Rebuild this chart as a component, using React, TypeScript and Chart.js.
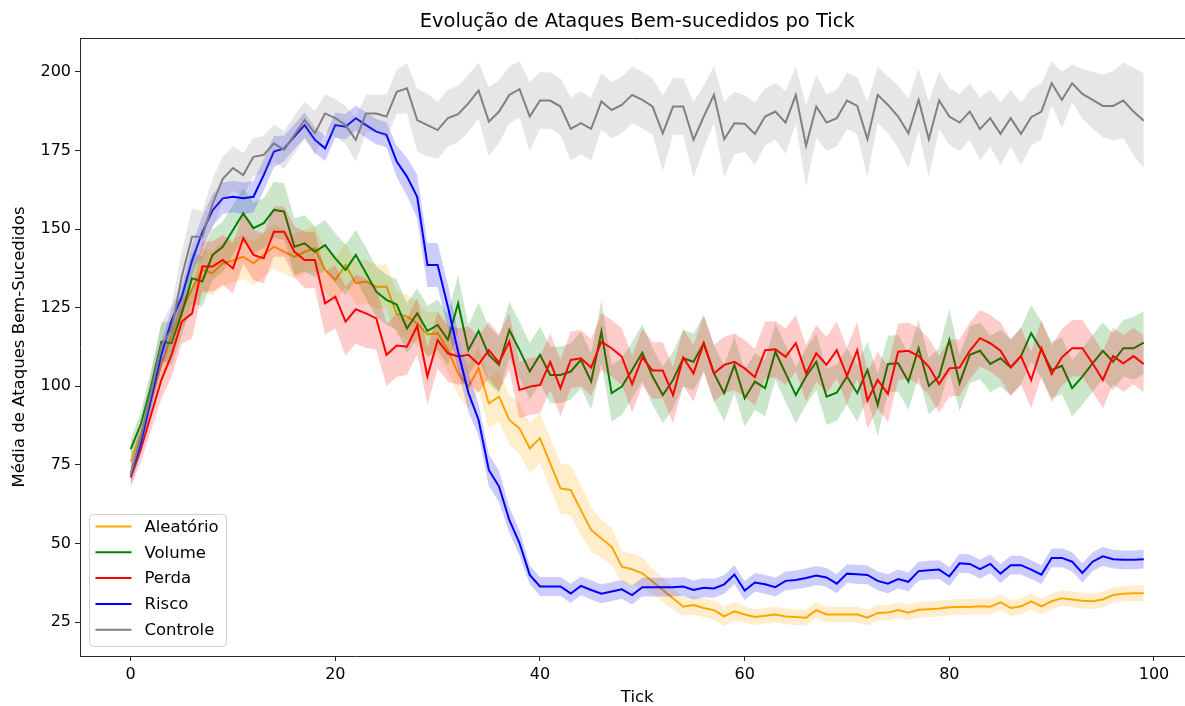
import { useEffect, useRef } from 'react';
import { Chart, registerables } from 'chart.js';

Chart.register(...registerables);

const TITLE = 'Evolução de Ataques Bem-sucedidos po Tick';
const X_LABEL = 'Tick';
const Y_LABEL = 'Média de Ataques Bem-Sucedidos';

const xTicks = [0, 20, 40, 60, 80, 100];
const yTicks = [25, 50, 75, 100, 125, 150, 175, 200];

const tickIndex = Array.from({ length: 100 }, (_, i) => i);

const seriesNames = ['Aleatório', 'Volume', 'Perda', 'Risco', 'Controle'];
const seriesColors = ['#FFA500', '#008000', '#FF0000', '#0000FF', '#808080'];
const bandColors = [
  'rgba(255,165,0,0.2)',
  'rgba(0,128,0,0.2)',
  'rgba(255,0,0,0.2)',
  'rgba(0,0,255,0.2)',
  'rgba(128,128,128,0.2)',
];

const aleatorio = [
  76, 85, 96, 107, 116, 124, 131, 137, 136, 139.1,
  140, 141.2, 139.1, 141.8, 144.4, 142.8, 141.2, 142.8, 143.9, 137,
  133.8, 138.6, 132.8, 133.3, 131.7, 131.7, 123, 122.2, 120, 116.5,
  116.9, 111.6, 104.1, 99.9, 105.7, 94.6, 96.7, 89.3, 86.6, 80.3,
  83.5, 75.5, 67.5, 67, 60.6, 54.3, 51.6, 49, 42.6, 41.8,
  40.5, 37.9, 35.2, 32.6, 29.9, 30.4, 29.5, 28.8, 26.8, 28.4,
  27.4, 26.6, 27, 27.4, 26.8, 26.6, 26.4, 28.8, 27.4, 27.4,
  27.4, 27.4, 26.4, 27.9, 28, 28.8, 28, 28.9, 29.1, 29.3,
  29.7, 29.8, 29.8, 30, 29.9, 31.3, 29.5, 30, 31.6, 30,
  31.6, 32.6, 32.2, 31.8, 31.6, 32.2, 33.6, 34, 34.2, 34.2,
];
const volume = [
  80, 88, 100, 114.2, 113.7, 123.2, 134.4, 133.3, 141.8, 144.4,
  149.7, 155, 150.3, 151.9, 156.1, 155.6, 144.4, 145.5, 142.8, 144.9,
  140.7, 137, 141.8, 136, 130.1, 127.5, 126, 118.4, 123.2, 117.6,
  119.5, 114.8, 126.4, 111.5, 117.6, 110, 106.8, 117.9, 111.5, 104.7,
  110, 103.6, 103.6, 104.7, 108.4, 101.5, 117.4, 97.8, 99.9, 105.2,
  110.7, 103.1, 97.2, 102, 108.9, 107.8, 113.7, 104.1, 97.8, 106.8,
  96.2, 101.5, 99.4, 111, 104.1, 97.2, 103.1, 107.8, 96.7, 98,
  103.1, 97.8, 105.2, 94.1, 107.1, 107.3, 101.5, 112.1, 100.1, 103.1,
  114.7, 101, 110, 111.3, 107.1, 108.9, 106, 109.6, 116.9, 111.5,
  105.2, 106.5, 99.4, 103.1, 107.3, 111.3, 107.8, 112.1, 112.1, 113.9,
];
const perda = [
  71, 80, 91, 102, 110, 120.6, 123.2, 138.1, 138.1, 140.2,
  137.5, 147.1, 141.8, 140.7, 149.2, 149.2, 142.8, 140.2, 140.2, 126.4,
  128.5, 120.6, 124.5, 123.2, 121.6, 110, 113, 112.6, 119.2, 103.1,
  114.7, 110.5, 109.5, 110, 107, 111.5, 107.5, 114.2, 98.8, 99.9,
  100.4, 107.8, 99.4, 108.4, 108.9, 106, 114.2, 112.1, 109.4, 100.7,
  109.2, 105, 105, 97.2, 109.2, 104.1, 113.7, 104.1, 106.8, 107.8,
  105.7, 102.9, 111.5, 111.8, 109.4, 113.7, 104.1, 110.5, 106.8, 111.5,
  103.3, 111.5, 95.4, 102, 97.6, 111, 111.3, 109.6, 106.2, 100.7,
  105.7, 106, 111.3, 115.3, 113.7, 111.3, 106, 109.6, 102, 112.1,
  103.9, 109.2, 112.1, 112.1, 107.3, 102, 109.6, 107.3, 109.6, 107.1,
];
const risco = [
  72, 82, 96, 110, 121, 128.5, 140, 149, 156, 159.8,
  160.3, 159.8, 160.3, 167.2, 174.7, 175.7, 179.4, 183.1, 178.4, 175.7,
  183.1, 182.6, 185.3, 183.1, 181, 180, 171.5, 166.7, 160.3, 138.6,
  138.6, 125.3, 111, 98, 89.3, 73.4, 68.1, 57.5, 50.1, 40,
  36.3, 36.3, 36.3, 34.1, 36.5, 35.2, 34, 34.7, 35.4, 33.6,
  36.1, 36.1, 36.1, 36.1, 36.3, 35.2, 35.9, 35.7, 37, 40.1,
  35, 37.6, 37, 36.1, 38.1, 38.4, 39, 39.8, 39.2, 37.2,
  40.4, 40.2, 40, 38.1, 37.2, 38.7, 37.8, 41.2, 41.5, 41.7,
  39.5, 43.7, 43.5, 41.8, 43.5, 40.4, 43.1, 43.1, 41.7, 40.1,
  45.4, 45.4, 44.2, 40.6, 44.2, 45.9, 45, 44.8, 44.8, 45,
];
const controle = [
  72, 84, 98, 113, 118, 135, 147.6, 147.6, 158, 166,
  169.4, 167.2, 173, 173.6, 177.3, 175.2, 180, 184.7, 180.5, 186.8,
  185.3, 183.1, 178.4, 186.8, 186.8, 185.8, 193.7, 194.8, 184.7, 183.1,
  181.5, 185.3, 186.6, 190, 194.1, 184.2, 187.4, 192.7, 194.5, 185.8,
  190.9, 190.9, 189, 181.9, 183.7, 181.9, 190.6, 187.9, 189.5, 192.7,
  191.1, 189, 180.5, 189, 189, 178.4, 185.8, 192.7, 178.6, 183.7,
  183.5, 180.3, 185.8, 187.4, 183.9, 192.7, 176.5, 189, 183.9, 185.3,
  190.9, 189.2, 178.6, 192.7, 189.5, 185.8, 180.5, 191.1, 178.6, 190.9,
  185.8, 183.9, 187.4, 181.8, 185.3, 180.3, 185.3, 180.3, 185.6, 187.4,
  196.4, 191.1, 196.4, 193, 191.1, 189.2, 189.2, 190.9, 187.4, 184.5,
];

// half-width of the shaded band around each mean line
const aleatorioBand = [
  3, 4, 5, 6, 6, 6, 7, 7, 7, 7,
  7, 7, 7, 7, 7, 7, 7, 7, 7, 7,
  7, 7, 7, 7, 7, 7, 7, 7, 7, 7,
  7, 7, 7, 7, 7, 8, 8, 8, 8, 8,
  8, 8, 8, 8, 8, 7, 6, 6, 5, 5,
  5, 4, 4, 3.5, 3, 3, 3, 3, 3, 3,
  2.5, 2.5, 2.5, 2.5, 2.5, 2.5, 2.5, 2.5, 2.5, 2.5,
  2.5, 2.5, 2.5, 2.5, 2.5, 2.5, 2.5, 2.5, 2.5, 2.5,
  2.5, 2.5, 2.5, 2.5, 2.5, 2.5, 2.5, 2.5, 2.5, 2.5,
  2.5, 2.5, 2.5, 2.5, 2.5, 2.5, 2.5, 2.5, 2.5, 2.5,
];
const volumeBand = [
  3, 4, 5, 6, 7, 7, 8, 8, 8, 8,
  8, 8, 8, 8, 9, 9, 9, 9, 8, 8,
  8, 8, 8, 8, 8, 8, 8, 8, 8, 8,
  8, 8, 9, 8, 9, 9, 9, 9, 9, 9,
  9, 9, 9, 9, 9, 9, 10, 9, 9, 9,
  9, 9, 9, 9, 9, 9, 9, 9, 9, 9,
  9, 9, 9, 9, 9, 9, 9, 9, 9, 9,
  9, 9, 9, 10, 9, 9, 9, 9, 9, 9,
  10, 9, 9, 9, 9, 9, 9, 9, 9, 9,
  9, 9, 9, 9, 9, 9, 9, 9, 10, 10,
];
const perdaBand = [
  3, 4, 5, 6, 7, 7, 8, 8, 8, 8,
  8, 8, 8, 8, 8, 8, 8, 9, 9, 10,
  10, 11, 11, 11, 10, 10, 10, 9, 9, 9,
  9, 9, 9, 9, 9, 9, 9, 9, 9, 9,
  9, 9, 9, 9, 9, 9, 9, 9, 9, 9,
  9, 9, 9, 9, 9, 9, 9, 9, 9, 9,
  9, 9, 9, 9, 9, 9, 9, 9, 9, 9,
  9, 9, 9, 9, 9, 9, 9, 9, 9, 9,
  9, 9, 9, 9, 9, 9, 9, 9, 9, 9,
  9, 9, 9, 9, 9, 9, 9, 9, 9, 9,
];
const riscoBand = [
  3, 3, 3, 4, 4, 4, 5, 5, 5, 5,
  5, 5, 5, 5, 5, 4, 4, 4, 4, 4,
  4, 4, 4, 4, 4, 4, 5, 6, 7, 7,
  7, 7, 6, 6, 5, 5, 5, 4, 4, 3,
  3, 3, 3, 3, 3, 3, 3, 3, 3, 3,
  3, 3, 3, 3, 3, 3, 3, 3, 3, 3,
  3, 3, 3, 3, 3, 3, 3, 3, 3, 3,
  3, 3, 3, 3, 3, 3, 3, 3, 3, 3,
  3, 3, 3, 3, 3, 3, 3, 3, 3, 3,
  3, 3, 3, 3, 3, 3, 3, 3, 3, 3,
];
const controleBand = [
  4, 5, 6, 7, 8, 8, 9, 8, 8, 7,
  7, 7, 6, 6, 6, 6, 6, 6, 7, 6,
  6, 6, 7, 6, 6, 7, 7, 8, 10, 10,
  9, 9, 9, 9, 9, 11, 10, 9, 9, 11,
  9, 9, 9, 10, 10, 10, 9, 9, 9, 9,
  9, 9, 12, 9, 9, 12, 10, 9, 12, 10,
  9, 10, 9, 9, 10, 9, 13, 10, 9, 9,
  9, 9, 12, 9, 9, 10, 11, 10, 12, 9,
  9, 9, 9, 10, 9, 10, 9, 10, 9, 9,
  7, 9, 6, 8, 9, 10, 11, 12, 14, 15,
];

const seriesMeans = [aleatorio, volume, perda, risco, controle];
const seriesBands = [aleatorioBand, volumeBand, perdaBand, riscoBand, controleBand];

const FONT = 'DejaVu Sans';
const TEXT = '#000000';
const SPINE = '#262626';
const X_MIN = -4.95;
const X_MAX_FULL = 103.95;

const decor = {
  id: 'decor',
  afterDraw(chart: any) {
    const { ctx, chartArea: a } = chart;
    const xs = chart.scales.x;
    const cx = (xs.getPixelForValue(X_MIN) + xs.getPixelForValue(X_MAX_FULL)) / 2;
    ctx.save();
    // top spine
    ctx.strokeStyle = SPINE;
    ctx.lineWidth = 1;
    ctx.beginPath();
    ctx.moveTo(a.left, a.top + 0.5);
    ctx.lineTo(a.right, a.top + 0.5);
    ctx.stroke();

    ctx.fillStyle = TEXT;
    ctx.textAlign = 'center';
    ctx.textBaseline = 'alphabetic';
    ctx.font = `19.5px "${FONT}"`;
    ctx.fillText(TITLE, cx, a.top - 11);

    ctx.font = `16.5px "${FONT}"`;
    ctx.fillText(X_LABEL, cx, a.bottom + 46);

    ctx.save();
    ctx.translate(24, (a.top + a.bottom) / 2);
    ctx.rotate(-Math.PI / 2);
    ctx.textBaseline = 'alphabetic';
    ctx.fillText(Y_LABEL, 0, 0);
    ctx.restore();

    // legend
    const bx = a.left + 9.5;
    const bw = 137;
    const bh = 132;
    const by = a.bottom - 9.5 - bh;
    ctx.beginPath();
    ctx.roundRect(bx, by, bw, bh, 4);
    ctx.fillStyle = 'rgba(255,255,255,0.8)';
    ctx.fill();
    ctx.strokeStyle = '#d0d0d0';
    ctx.lineWidth = 1;
    ctx.stroke();
    ctx.font = `16.5px "${FONT}"`;
    ctx.textAlign = 'left';
    ctx.textBaseline = 'middle';
    seriesNames.forEach((name, i) => {
      const ry = by + 12 + i * 25.8;
      ctx.strokeStyle = seriesColors[i];
      ctx.lineWidth = 2;
      ctx.beginPath();
      ctx.moveTo(bx + 6, ry);
      ctx.lineTo(bx + 42, ry);
      ctx.stroke();
      ctx.fillStyle = TEXT;
      ctx.fillText(name, bx + 55, ry + 1);
    });
    ctx.restore();
  },
};

export default function App() {
  const ref = useRef<HTMLCanvasElement | null>(null);

  useEffect(() => {
    if (!ref.current) return;
    const datasets: any[] = [];
    seriesMeans.forEach((mean, k) => {
      const band = seriesBands[k];
      const base = (5 - k) * 10;
      const lowIdx = datasets.length;
      datasets.push({
        label: seriesNames[k] + ' min',
        data: tickIndex.map((t) => ({ x: t, y: mean[t] - band[t] })),
        borderWidth: 0,
        borderColor: 'rgba(0,0,0,0)',
        pointRadius: 0,
        fill: false,
        order: base + 2,
      });
      datasets.push({
        label: seriesNames[k] + ' max',
        data: tickIndex.map((t) => ({ x: t, y: mean[t] + band[t] })),
        borderWidth: 0,
        borderColor: 'rgba(0,0,0,0)',
        backgroundColor: bandColors[k],
        pointRadius: 0,
        fill: lowIdx,
        order: base + 1,
      });
      datasets.push({
        label: seriesNames[k],
        data: tickIndex.map((t) => ({ x: t, y: mean[t] })),
        borderColor: seriesColors[k],
        borderWidth: 2,
        pointRadius: 0,
        tension: 0,
        fill: false,
        order: base,
      });
    });

    const chart = new Chart(ref.current, {
      type: 'line',
      data: { datasets },
      options: {
        animation: false,
        responsive: false,
        events: [],
        layout: { padding: { top: 38, right: 0, bottom: 0, left: 0 } },
        plugins: {
          legend: { display: false },
          tooltip: { enabled: false },
          title: { display: false },
        },
        scales: {
          x: {
            type: 'linear',
            min: X_MIN,
            max: 103.03,
            afterBuildTicks: (s: any) => {
              s.ticks = xTicks.map((v) => ({ value: v }));
            },
            afterFit: (s: any) => {
              s.height = 50;
            },
            ticks: {
              font: { family: FONT, size: 16 },
              color: TEXT,
              padding: 4,
              maxRotation: 0,
              autoSkip: false,
            },
            grid: {
              drawOnChartArea: false,
              drawTicks: true,
              tickLength: 5,
              tickColor: SPINE,
              tickWidth: 1,
            },
            border: { display: true, color: SPINE, width: 1 },
          },
          y: {
            type: 'linear',
            min: 14.2,
            max: 210.8,
            afterBuildTicks: (s: any) => {
              s.ticks = yTicks.map((v) => ({ value: v }));
            },
            afterFit: (s: any) => {
              s.width = 80;
            },
            ticks: {
              font: { family: FONT, size: 16 },
              color: TEXT,
              padding: 4,
              autoSkip: false,
            },
            grid: {
              drawOnChartArea: false,
              drawTicks: true,
              tickLength: 5,
              tickColor: SPINE,
              tickWidth: 1,
            },
            border: { display: true, color: SPINE, width: 1 },
          },
        },
      },
      plugins: [decor],
    });
    return () => chart.destroy();
  }, []);

  return (
    <div style={{ position: 'absolute', left: 0, top: 0, width: 1185, height: 706, background: '#fff' }}>
      <canvas ref={ref} width={1185} height={706} style={{ display: 'block' }} />
    </div>
  );
}
